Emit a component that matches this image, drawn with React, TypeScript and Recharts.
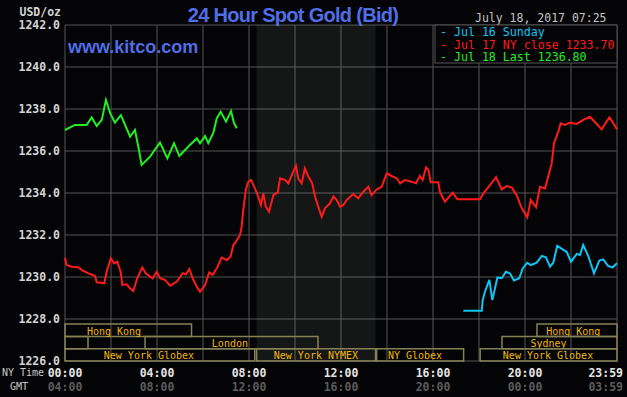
import { LineChart, Line, XAxis, YAxis, CartesianGrid, ReferenceArea } from 'recharts'

// hours after midnight NY time, bid price in USD/oz
const jul18Hours = [0, 0.43, 0.94, 1.16, 1.38, 1.6, 1.78, 1.96, 2.17, 2.43, 2.83, 3.04, 3.19, 3.33, 3.7, 4.13, 4.45, 4.74, 4.97, 5.22, 5.43, 5.73, 5.87, 6.09, 6.23, 6.45, 6.6, 6.77, 7.0, 7.22, 7.35, 7.47]
const jul18Prices = [1237.0, 1237.24, 1237.24, 1237.6, 1237.19, 1237.48, 1238.43, 1237.81, 1237.35, 1237.71, 1236.68, 1237.0, 1236.2, 1235.33, 1235.73, 1236.4, 1235.65, 1236.37, 1235.76, 1236.05, 1236.29, 1236.6, 1236.37, 1236.71, 1236.37, 1236.87, 1237.56, 1237.87, 1237.4, 1237.9, 1237.32, 1237.08]

const jul17Hours = [0, 0.07, 0.29, 0.58, 0.73, 1.09, 1.3, 1.38, 1.71, 1.81, 1.99, 2.13, 2.27, 2.42, 2.49, 2.68, 2.83, 2.97, 3.14, 3.36, 3.51, 3.7, 3.81, 3.99, 4.13, 4.35, 4.57, 4.86, 5.12, 5.26, 5.4, 5.55, 5.73, 5.87, 6.09, 6.27, 6.42, 6.6, 6.81, 7.03, 7.2, 7.32, 7.43, 7.61, 7.68, 7.75, 7.86, 7.97, 8.09, 8.26, 8.4, 8.52, 8.62, 8.73, 8.87, 9.06, 9.25, 9.35, 9.57, 9.71, 9.86, 10.04, 10.14, 10.29, 10.43, 10.58, 10.75, 10.87, 11.01, 11.16, 11.3, 11.52, 11.67, 11.81, 11.96, 12.1, 12.25, 12.53, 12.75, 12.97, 13.19, 13.33, 13.55, 13.77, 13.99, 14.2, 14.42, 14.57, 14.78, 15.07, 15.26, 15.43, 15.55, 15.7, 15.8, 15.9, 16.23, 16.3, 16.52, 16.86, 17.06, 18.04, 18.19, 18.48, 18.74, 18.99, 19.2, 19.42, 19.64, 19.86, 20.1, 20.25, 20.48, 20.65, 20.87, 21.01, 21.16, 21.26, 21.45, 21.55, 21.74, 21.96, 22.25, 22.53, 22.83, 23.09, 23.33, 23.67, 23.84, 24.0]
const jul17Prices = [1230.92, 1230.57, 1230.49, 1230.46, 1230.33, 1230.14, 1230.06, 1229.75, 1229.7, 1230.25, 1230.89, 1230.65, 1230.73, 1230.25, 1229.62, 1229.65, 1229.46, 1229.33, 1229.94, 1230.46, 1230.18, 1230.02, 1229.94, 1230.25, 1229.94, 1229.86, 1229.59, 1229.78, 1230.18, 1230.13, 1230.38, 1229.94, 1229.54, 1229.3, 1229.62, 1230.22, 1230.1, 1230.41, 1230.92, 1230.81, 1230.97, 1231.52, 1231.68, 1232.0, 1232.4, 1233.19, 1234.14, 1234.54, 1234.62, 1234.22, 1233.83, 1233.43, 1233.98, 1233.35, 1233.11, 1233.9, 1234.03, 1234.7, 1234.62, 1234.46, 1234.86, 1235.29, 1234.7, 1234.46, 1235.17, 1234.78, 1234.46, 1233.83, 1233.35, 1232.87, 1233.27, 1233.51, 1233.83, 1233.67, 1233.35, 1233.43, 1233.67, 1233.95, 1233.75, 1234.06, 1234.3, 1233.9, 1234.17, 1234.3, 1234.94, 1234.81, 1234.7, 1234.46, 1234.62, 1234.54, 1234.46, 1234.81, 1234.62, 1235.22, 1235.1, 1234.51, 1234.51, 1234.06, 1233.59, 1234.02, 1233.7, 1233.7, 1233.98, 1234.38, 1234.75, 1234.17, 1234.33, 1234.27, 1233.9, 1233.27, 1232.84, 1233.67, 1233.32, 1234.3, 1234.22, 1234.78, 1235.41, 1236.37, 1236.92, 1237.32, 1237.24, 1237.35, 1237.29, 1237.48, 1237.63, 1237.32, 1237.03, 1237.6, 1237.32, 1237.03]

const jul16Hours = [17.32, 18.12, 18.16, 18.26, 18.45, 18.58, 18.8, 18.99, 19.17, 19.35, 19.52, 19.75, 19.9, 20.1, 20.25, 20.51, 20.73, 20.91, 21.09, 21.23, 21.4, 21.67, 21.81, 22.0, 22.25, 22.39, 22.53, 22.75, 23.0, 23.23, 23.4, 23.62, 23.81, 24.0]
const jul16Prices = [1228.39, 1228.39, 1228.9, 1229.3, 1229.86, 1228.9, 1229.98, 1229.94, 1230.25, 1230.17, 1229.83, 1229.94, 1230.41, 1230.68, 1230.57, 1230.68, 1231.0, 1230.94, 1230.49, 1230.68, 1231.48, 1231.29, 1231.2, 1230.73, 1231.1, 1231.05, 1231.52, 1231.0, 1230.17, 1230.78, 1230.84, 1230.52, 1230.46, 1230.65]

const priceTicks = [1226, 1228, 1230, 1232, 1234, 1236, 1238, 1240, 1242]
const hourTicks = [0, 2, 4, 6, 8, 10, 12, 14, 16, 18, 20, 22, 24]
const nyTimeLabels: Record<number, string> = { 0: '00:00', 4: '04:00', 8: '08:00', 12: '12:00', 16: '16:00', 20: '20:00', 24: '23:59' }
const gmtLabels: Record<number, string> = { 0: '04:00', 4: '08:00', 8: '12:00', 12: '16:00', 16: '20:00', 20: '00:00', 24: '03:59' }

const nymexHours = [8.33, 13.5]

const sessions = [
  { name: 'Hong Kong', row: 0, start: 0, end: 5.5, labelAt: 2.13 },
  { name: 'Hong Kong', row: 0, start: 20.52, end: 24, labelAt: 22.1 },
  { name: '', row: 1, start: 0, end: 1, labelAt: 0.5 },
  { name: 'London', row: 1, start: 3.48, end: 11, labelAt: 7.17 },
  { name: 'Sydney', row: 1, start: 19, end: 24, labelAt: 21.02 },
  { name: 'New York Globex', row: 2, start: 0, end: 8.25, labelAt: 3.65 },
  { name: 'New York NYMEX', row: 2, start: 8.33, end: 13.5, labelAt: 10.91 },
  { name: 'NY Globex', row: 2, start: 13.55, end: 17.33, labelAt: 15.22 },
  { name: 'New York Globex', row: 2, start: 18.05, end: 24, labelAt: 21.0 },
]

const legendItems = [
  { text: 'Jul 16 Sunday', color: '#10c4f4' },
  { text: 'Jul 17 NY close 1233.70', color: '#ff1a1a' },
  { text: 'Jul 18 Last 1236.80', color: '#22ee22' },
]

const BG = '#040406'
const GRID = '#545454'
const MONO = '"DejaVu Sans Mono", "Liberation Mono", monospace'
const ROW_BANDS = [[1227.17, 1227.76], [1226.58, 1227.17], [1226.0, 1226.58]]

const toData = (hours: number[], prices: number[]) => hours.map((h, i) => ({ h, p: prices[i] }))

function PriceTick({ x, y, payload }: any) {
  return (
    <text x={x} y={y} textAnchor="end" dominantBaseline="central" fill="#d4d4d4"
      fontFamily={MONO} fontSize={11.5} fontWeight="bold">
      {payload.value.toFixed(1)}
    </text>
  )
}

function HourTick({ x, y, payload }: any) {
  const v = payload.value
  if (!(v in nyTimeLabels)) return null
  const last = v === 24
  const tx = last ? x + 6 : x
  const anchor = last ? 'end' : 'middle'
  return (
    <g>
      <text x={tx} y={y + 12} textAnchor={anchor} dominantBaseline="central" fill="#e4e4e4"
        fontFamily={MONO} fontSize={11.5} fontWeight="bold">{nyTimeLabels[v]}</text>
      <text x={tx} y={y + 26} textAnchor={anchor} dominantBaseline="central" fill="#5c5c5c"
        fontFamily={MONO} fontSize={11.5} fontWeight="bold">{gmtLabels[v]}</text>
    </g>
  )
}

export default function App() {
  return (
    <div style={{ position: 'absolute', left: 0, top: 0, width: 627, height: 397, background: BG, overflow: 'hidden' }}>
      <LineChart width={627} height={397} margin={{ top: 25, right: 10, left: 0, bottom: 0 }}>
        <ReferenceArea x1={nymexHours[0]} x2={nymexHours[1]} fill="#b4c8b4" fillOpacity={0.1} stroke="none" />
        <CartesianGrid stroke={GRID} strokeWidth={1} />
        <XAxis dataKey="h" type="number" domain={[0, 24]} ticks={hourTicks} interval={0}
          axisLine={false} tickLine={false} tickSize={0} tickMargin={0} height={36} tick={<HourTick />} />
        <YAxis type="number" domain={[1226, 1242]} ticks={priceTicks} interval={0}
          axisLine={false} tickLine={false} tickSize={0} tickMargin={5} width={65} tick={<PriceTick />} />
        {sessions.map((s, i) => (
          <ReferenceArea key={i} x1={s.start} x2={s.end} y1={ROW_BANDS[s.row][0]} y2={ROW_BANDS[s.row][1]}
            fill="none" stroke="#858156" strokeWidth={1.5}
            label={(p: any) => {
              const vb = p.viewBox
              if (!vb || !s.name) return null
              const cx = vb.x + ((s.labelAt - s.start) / (s.end - s.start)) * vb.width
              return (
                <text x={cx} y={vb.y + vb.height / 2 + 1} textAnchor="middle" dominantBaseline="central"
                  fill="#f0b800" fontFamily={MONO} fontSize={10}>{s.name}</text>
              )
            }} />
        ))}
        <Line data={toData(jul17Hours, jul17Prices)} dataKey="p" type="linear" stroke="#ff1a1a" strokeWidth={2}
          dot={false} isAnimationActive={false} />
        <Line data={toData(jul16Hours, jul16Prices)} dataKey="p" type="linear" stroke="#10c4f4" strokeWidth={2}
          dot={false} isAnimationActive={false} />
        <Line data={toData(jul18Hours, jul18Prices)} dataKey="p" type="linear" stroke="#22ee22" strokeWidth={2}
          dot={false} isAnimationActive={false} />
      </LineChart>
      <svg width={627} height={397} style={{ position: 'absolute', left: 0, top: 0, pointerEvents: 'none' }}>
        <text x={293} y={22} textAnchor="middle" fill="#506ee6" fontFamily='"Liberation Sans", Arial, sans-serif'
          fontSize={20} fontWeight="bold" letterSpacing={-0.7}>24 Hour Spot Gold (Bid)</text>
        <text x={68} y={53} fill="#506ee6" fontFamily='"Liberation Sans", Arial, sans-serif'
          fontSize={18} fontWeight="bold">www.kitco.com</text>
        <text x={475} y={22} fill="#c4c4c4" fontFamily={MONO} fontSize={11.5}>July 18, 2017 07:25</text>
        <text x={61} y={16} textAnchor="end" fill="#d4d4d4" fontFamily={MONO} fontSize={11.5} fontWeight="bold">USD/oz</text>
        <rect x={435} y={25} width={182} height={38} fill={BG} stroke={GRID} />
        {legendItems.map((it, i) => (
          <text key={i} x={440} y={36 + i * 12.5} fill={it.color} fontFamily={MONO} fontSize={11.6}>
            {'- ' + it.text}
          </text>
        ))}
        <text x={2} y={376} fill="#c8c8c8" fontFamily={MONO} fontSize={10}>NY Time</text>
        <text x={10} y={390} fill="#c8c8c8" fontFamily={MONO} fontSize={10}>GMT</text>
      </svg>
    </div>
  )
}
